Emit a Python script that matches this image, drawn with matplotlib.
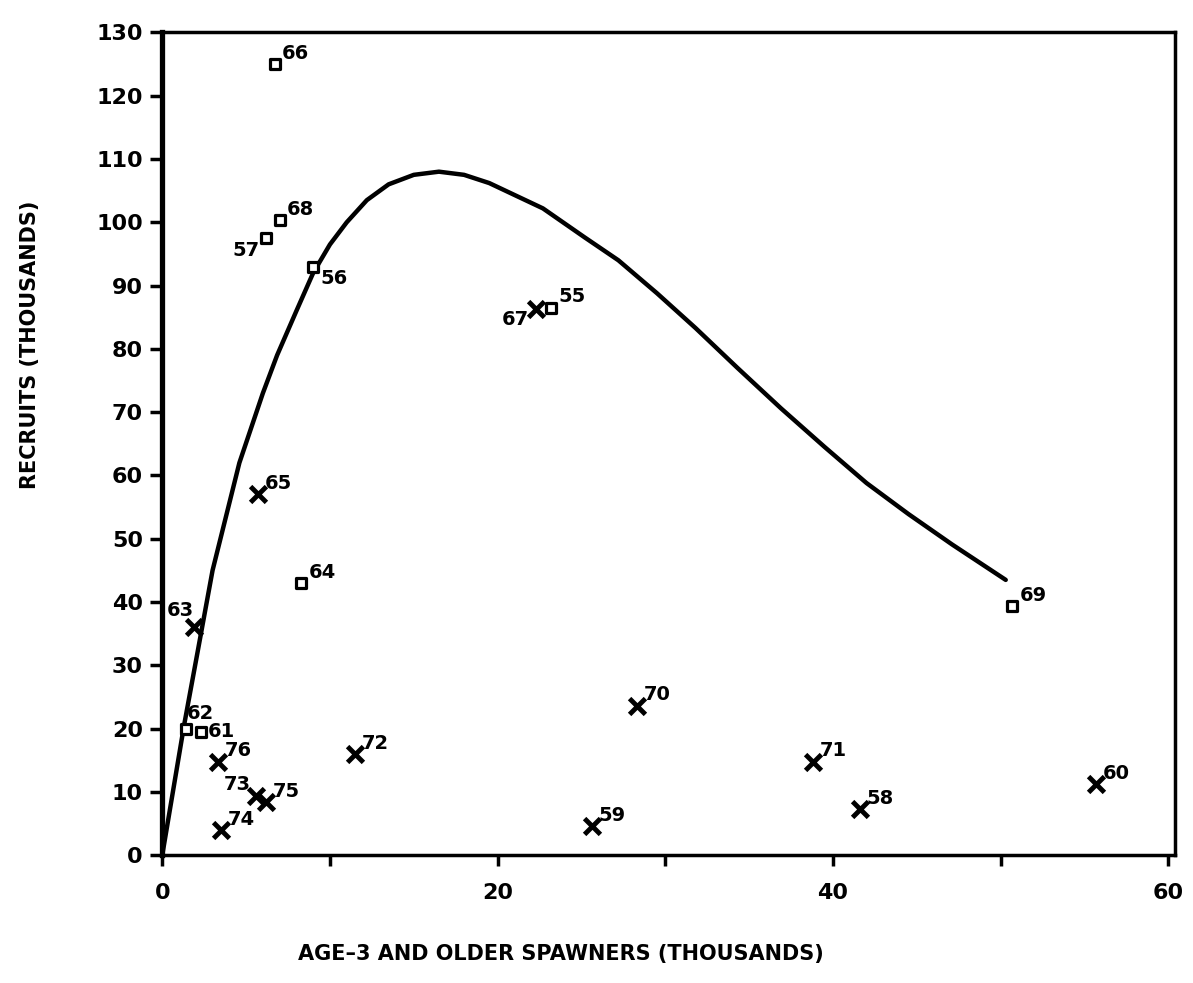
import matplotlib
matplotlib.use("Agg")
import matplotlib.pyplot as plt

# square points (open markers)
sq_year = ["55", "56", "57", "61", "62", "64", "66", "68", "69"]
sq_x = [23.2, 9.0, 6.2, 2.3, 1.4, 8.3, 6.7, 7.0, 50.7]
sq_y = [86.5, 93.0, 97.5, 19.5, 20.0, 43.0, 125.0, 100.3, 39.3]

# x points
x_year = ["58", "59", "60", "63", "65", "67", "70", "71", "72", "73", "74", "75", "76"]
x_x = [41.6, 25.6, 55.7, 1.9, 5.7, 22.3, 28.3, 38.8, 11.5, 5.6, 3.5, 6.2, 3.3]
x_y = [7.3, 4.6, 11.2, 36.0, 57.0, 86.3, 23.6, 14.8, 16.0, 9.3, 4.0, 8.4, 14.8]

# fitted curve
curve_x = [0, 1.3, 2.1, 3.0, 4.6, 6.0, 6.85, 8.0, 9.0, 10.0, 11.0, 12.2, 13.5,
           15.0, 16.5, 18.0, 19.5, 21.1, 22.7, 25.2, 27.2, 29.5, 31.8, 34.3,
           36.9, 39.5, 42.0, 44.5, 47.1, 50.3]
curve_y = [0, 20.5, 32, 45, 62, 73, 79, 86, 92, 96.5, 100, 103.5, 106,
           107.5, 108, 107.5, 106.2, 104.2, 102.2, 97.6, 94.0, 88.8, 83.3, 77.0,
           70.6, 64.5, 58.8, 53.9, 49.1, 43.5]

# label placement: (dx, dy, ha, va) in points
ur = (5, 1, "left", "bottom")
lab_pos = {
    "56": (5, -2, "left", "top"),
    "57": (-5, -2, "right", "top"),
    "61": (5, 0, "left", "center"),
    "62": (1, 4, "left", "bottom"),
    "63": (0, 5, "right", "bottom"),
    "67": (-5, -1, "right", "top"),
    "73": (-4, 2, "right", "bottom"),
}

fig = plt.figure(figsize=(11.93, 9.83), dpi=100)
ax = fig.add_axes([0.136, 0.130, 0.849, 0.837])

ax.plot(curve_x, curve_y, color="black", lw=3.2, solid_capstyle="round",
        solid_joinstyle="round", zorder=2)
ax.scatter(sq_x, sq_y, marker="s", s=60, facecolors="white", edgecolors="black",
           linewidths=2.3, zorder=3)
ax.scatter(x_x, x_y, marker="x", s=130, color="black", linewidths=3.5, zorder=3)

for names, xs, ys in [(sq_year, sq_x, sq_y), (x_year, x_x, x_y)]:
    for n, xv, yv in zip(names, xs, ys):
        dx, dy, ha, va = lab_pos.get(n, ur)
        ax.annotate(n, (xv, yv), xytext=(dx, dy), textcoords="offset points",
                    ha=ha, va=va, fontsize=14, fontweight="bold")

ax.set_xlim(0, 60.4)
ax.set_ylim(0, 130)
ax.set_yticks(range(0, 131, 10))
ax.set_xticks(range(0, 61, 10))
ax.set_xticklabels(["0", "", "20", "", "40", "", "60"])
for lab in ax.get_yticklabels() + ax.get_xticklabels():
    lab.set_fontweight("bold")
ax.tick_params(axis="y", direction="out", length=9, width=2.5, labelsize=16, pad=5)
ax.tick_params(axis="x", direction="out", length=8, width=2.5, labelsize=16, pad=12)

ax.spines["left"].set_linewidth(3.8)
for s in ["top", "right", "bottom"]:
    ax.spines[s].set_linewidth(2.5)

fig.text(0.025, 0.649, "RECRUITS (THOUSANDS)", rotation=90, ha="center", va="center",
         fontsize=15, fontweight="bold")
fig.text(0.47, 0.030, "AGE\u20133 AND OLDER SPAWNERS (THOUSANDS)", ha="center", va="center",
         fontsize=15, fontweight="bold")

fig.savefig("out.png", dpi=100, facecolor="white")
